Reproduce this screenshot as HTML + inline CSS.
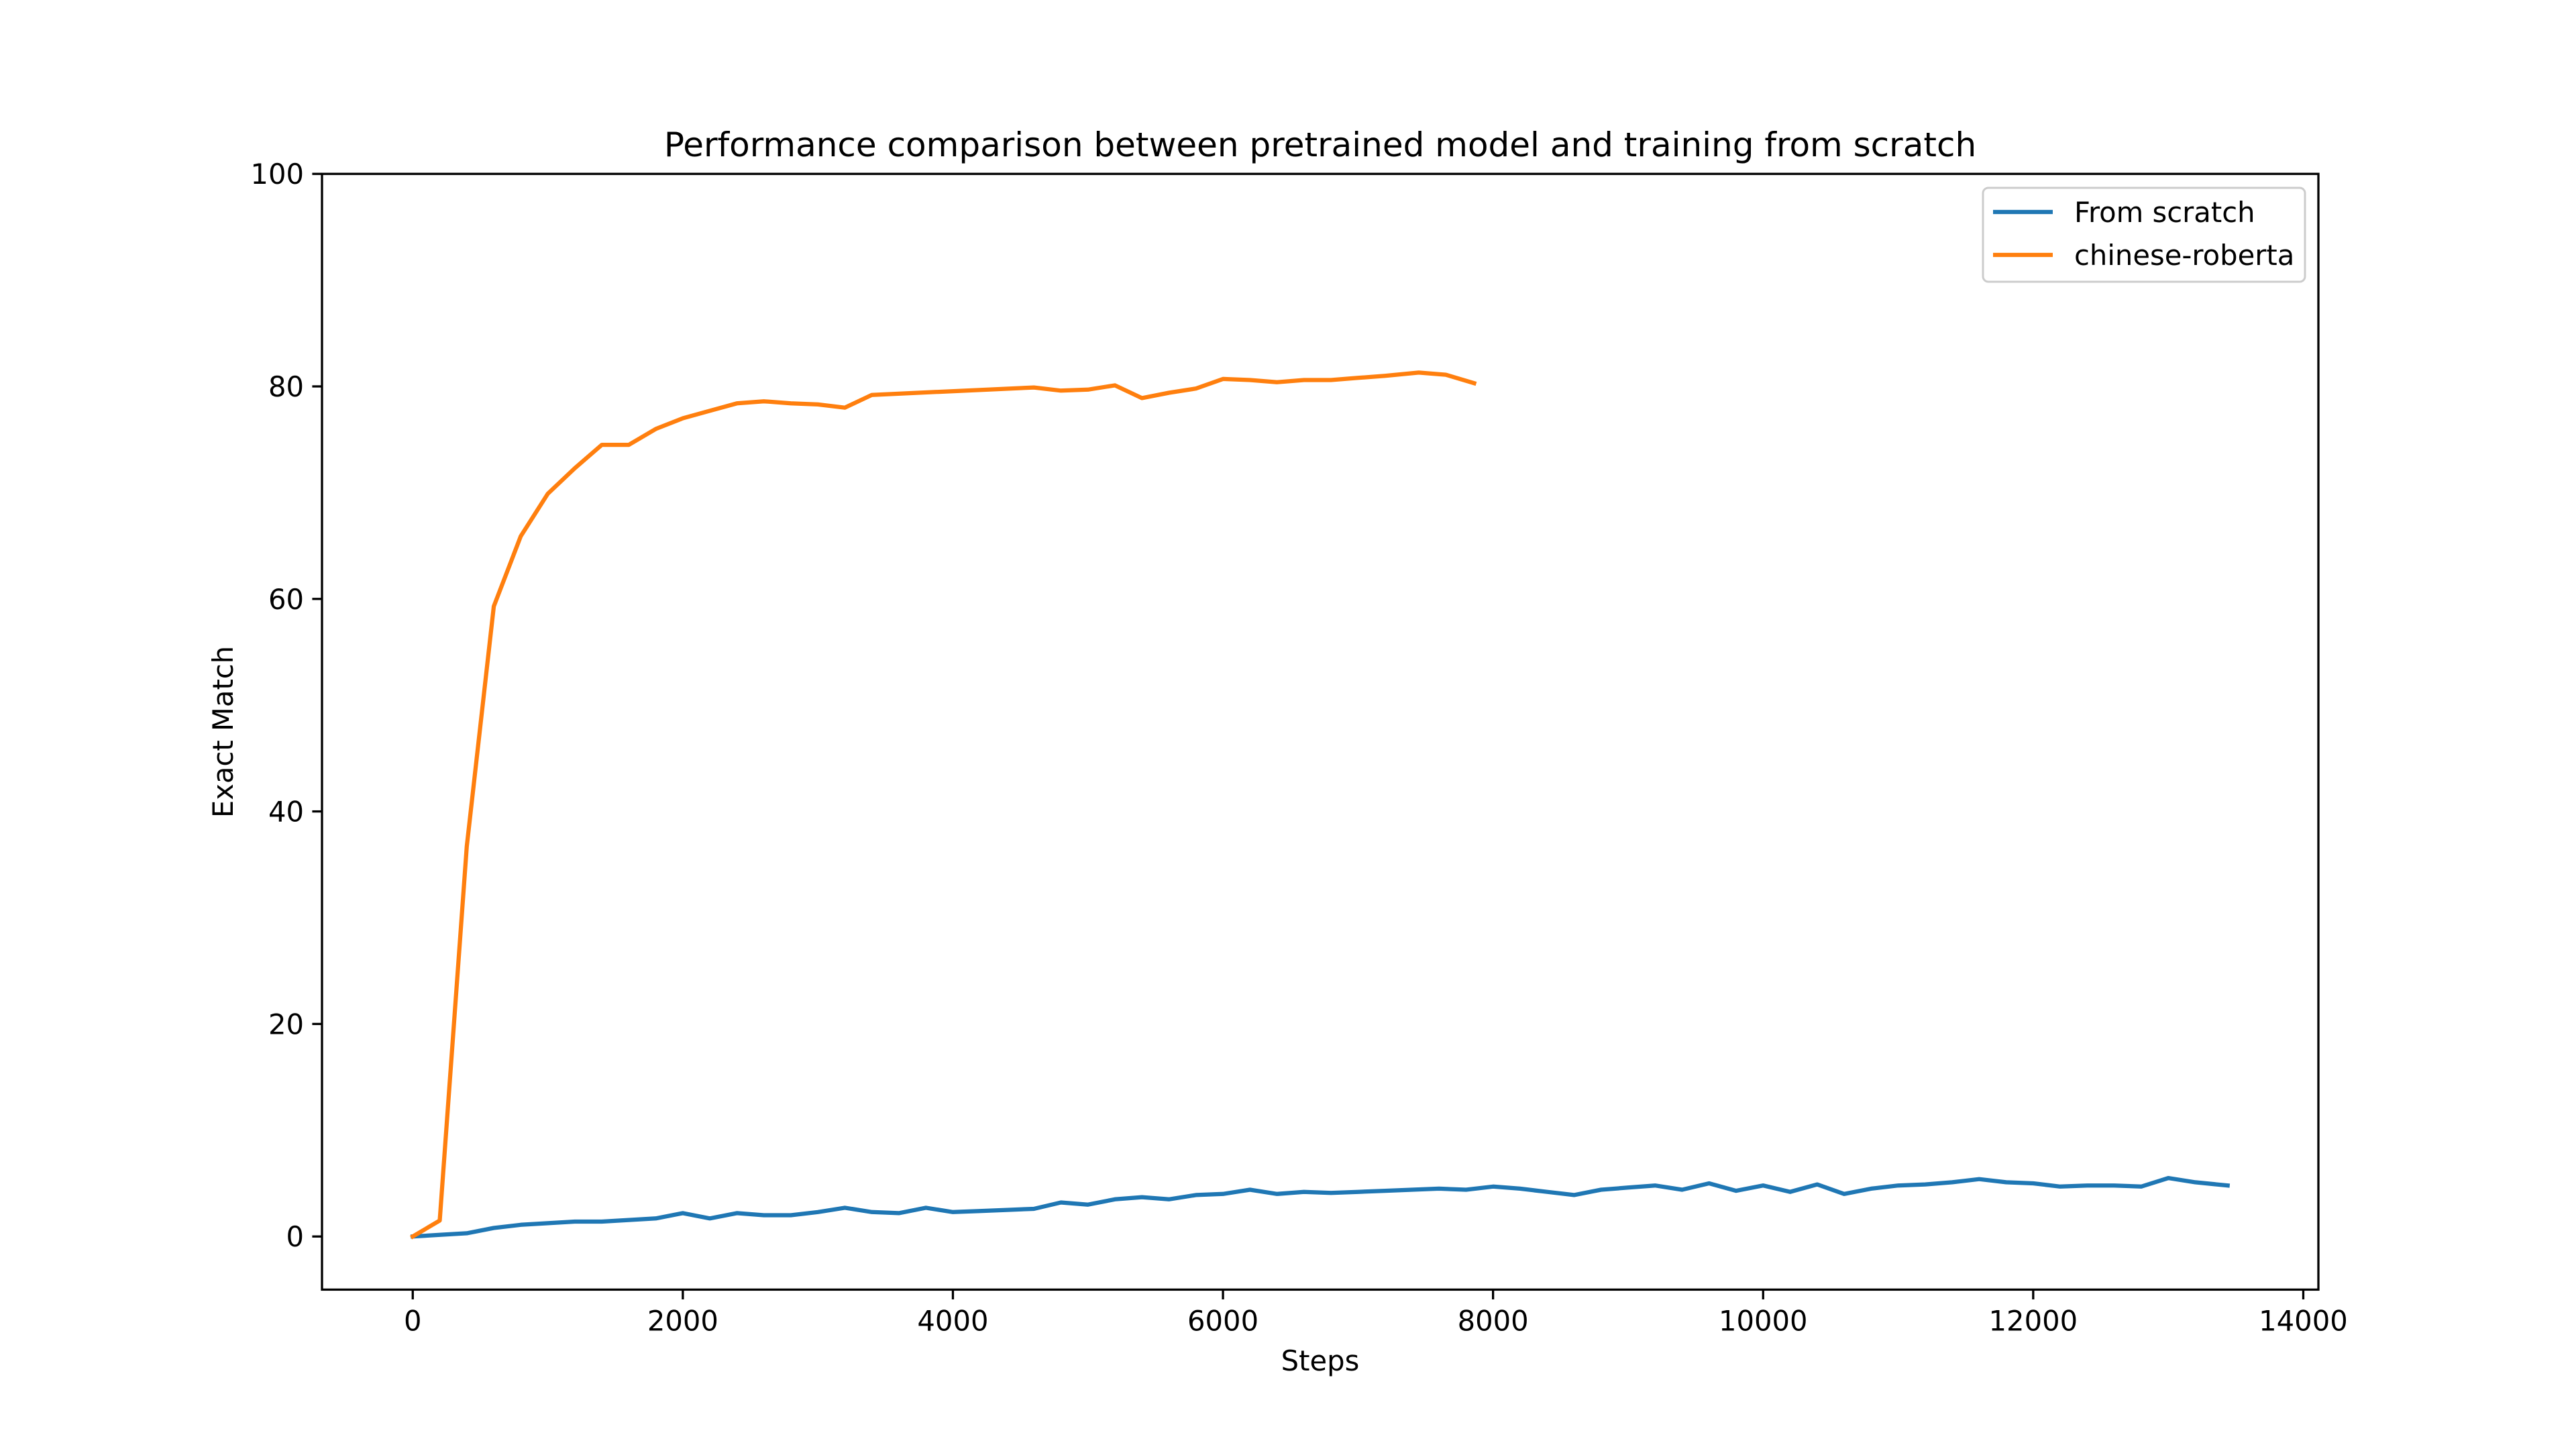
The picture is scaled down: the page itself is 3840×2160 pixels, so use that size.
<!DOCTYPE html>
<html><head><meta charset="utf-8"><style>
html,body{margin:0;padding:0;background:#fff}
svg{display:block}
text{font-family:"DejaVu Sans","Liberation Sans",sans-serif;fill:#000}
</style></head><body>
<svg id="chart" width="3840" height="2160" viewBox="0 0 3840 2160" xmlns="http://www.w3.org/2000/svg">
<rect width="3840" height="2160" fill="#fff"/>
<text x="1968" y="233" font-size="50" text-anchor="middle">Performance comparison between pretrained model and training from scratch</text>
<g id="plot"></g>
<text x="1968" y="2043" font-size="41.7" text-anchor="middle">Steps</text>
<text x="0" y="0" font-size="41.7" text-anchor="middle" transform="translate(347,1091) rotate(-90)">Exact Match</text>
<g>
<rect x="2956" y="280" width="480" height="140" rx="8" fill="#fff" fill-opacity="0.8" stroke="#cccccc" stroke-width="3"/>
<line x1="2971" y1="316" x2="3060" y2="316" stroke="#1f77b4" stroke-width="6.25"/>
<text x="3092" y="331" font-size="41.7">From scratch</text>
<line x1="2971" y1="380" x2="3060" y2="380" stroke="#ff7f0e" stroke-width="6.25"/>
<text x="3092" y="395" font-size="41.7">chinese-roberta</text>
</g>
</svg>
<script>
const scratchSteps = [0,200,400,600,800,1000,1200,1400,1600,1800,2000,2200,2400,2600,2800,3000,3200,3400,3600,3800,4000,4200,4400,4600,4800,5000,5200,5400,5600,5800,6000,6200,6400,6600,6800,7000,7200,7400,7600,7800,8000,8200,8400,8600,8800,9000,9200,9400,9600,9800,10000,10200,10400,10600,10800,11000,11200,11400,11600,11800,12000,12200,12400,12600,12800,13000,13200,13440];
const scratchEM = [0,0.15,0.3,0.8,1.1,1.25,1.4,1.4,1.55,1.7,2.2,1.7,2.2,2.0,2.0,2.3,2.7,2.3,2.2,2.7,2.3,2.4,2.5,2.6,3.2,3.0,3.5,3.7,3.5,3.9,4.0,4.4,4.0,4.2,4.1,4.2,4.3,4.4,4.5,4.4,4.7,4.5,4.2,3.9,4.4,4.6,4.8,4.4,5.0,4.3,4.8,4.2,4.9,4.0,4.5,4.8,4.9,5.1,5.4,5.1,5.0,4.7,4.8,4.8,4.7,5.5,5.1,4.8];
const robertaSteps = [0,200,400,600,800,1000,1200,1400,1600,1800,2000,2200,2400,2600,2800,3000,3200,3400,4600,4800,5000,5200,5400,5600,5800,6000,6200,6400,6600,6800,7000,7200,7450,7650,7860];
const robertaEM = [0,1.5,36.7,59.3,65.9,69.9,72.3,74.5,74.5,76.0,77.0,77.7,78.4,78.6,78.4,78.3,78.0,79.2,79.9,79.6,79.7,80.1,78.9,79.4,79.8,80.7,80.6,80.4,80.6,80.6,80.8,81.0,81.3,81.1,80.3];
const xTicks = [0,2000,4000,6000,8000,10000,12000,14000];
const yTicks = [0,20,40,60,80,100];

const L=480,R=3456,T=259.2,B=1922.4;
const xMin=-672,xMax=14112,yMin=-5,yMax=100;
const sx=v=>L+(v-xMin)/(xMax-xMin)*(R-L);
const sy=v=>B-(v-yMin)/(yMax-yMin)*(B-T);
const NS='http://www.w3.org/2000/svg';
const plot=document.getElementById('plot');
function mk(tag,attrs,parent){const e=document.createElementNS(NS,tag);for(const k in attrs)e.setAttribute(k,attrs[k]);(parent||plot).appendChild(e);return e;}

function line(xs,ys,color,name){
  const d=xs.map((x,i)=>(i?'L':'M')+sx(x).toFixed(1)+','+sy(ys[i]).toFixed(1)).join(' ');
  const p=mk('path',{d:d,fill:'none',stroke:color,'stroke-width':6.25,'stroke-linejoin':'round','stroke-linecap':'square'});
  
  
}
line(scratchSteps,scratchEM,'#1f77b4','series-from-scratch');
line(robertaSteps,robertaEM,'#ff7f0e','series-chinese-roberta');

const frame=mk('rect',{x:L,y:T,width:R-L,height:B-T,fill:'none',stroke:'#000','stroke-width':3.3});



xTicks.forEach(v=>{
  const x=sx(v);
  const t=mk('line',{x1:x,y1:B,x2:x,y2:B+14.6,stroke:'#000','stroke-width':3.3});
  
  
  const lb=mk('text',{x:x,y:B+61,'font-size':41.7,'text-anchor':'middle'});
  lb.textContent=v;
  
  
});
yTicks.forEach(v=>{
  const y=sy(v);
  const t=mk('line',{x1:L-14.6,y1:y,x2:L,y2:y,stroke:'#000','stroke-width':3.3});
  
  
  const lb=mk('text',{x:L-27,y:y+15,'font-size':41.7,'text-anchor':'end'});
  lb.textContent=v;
  
  
});
</script>
</body></html>
